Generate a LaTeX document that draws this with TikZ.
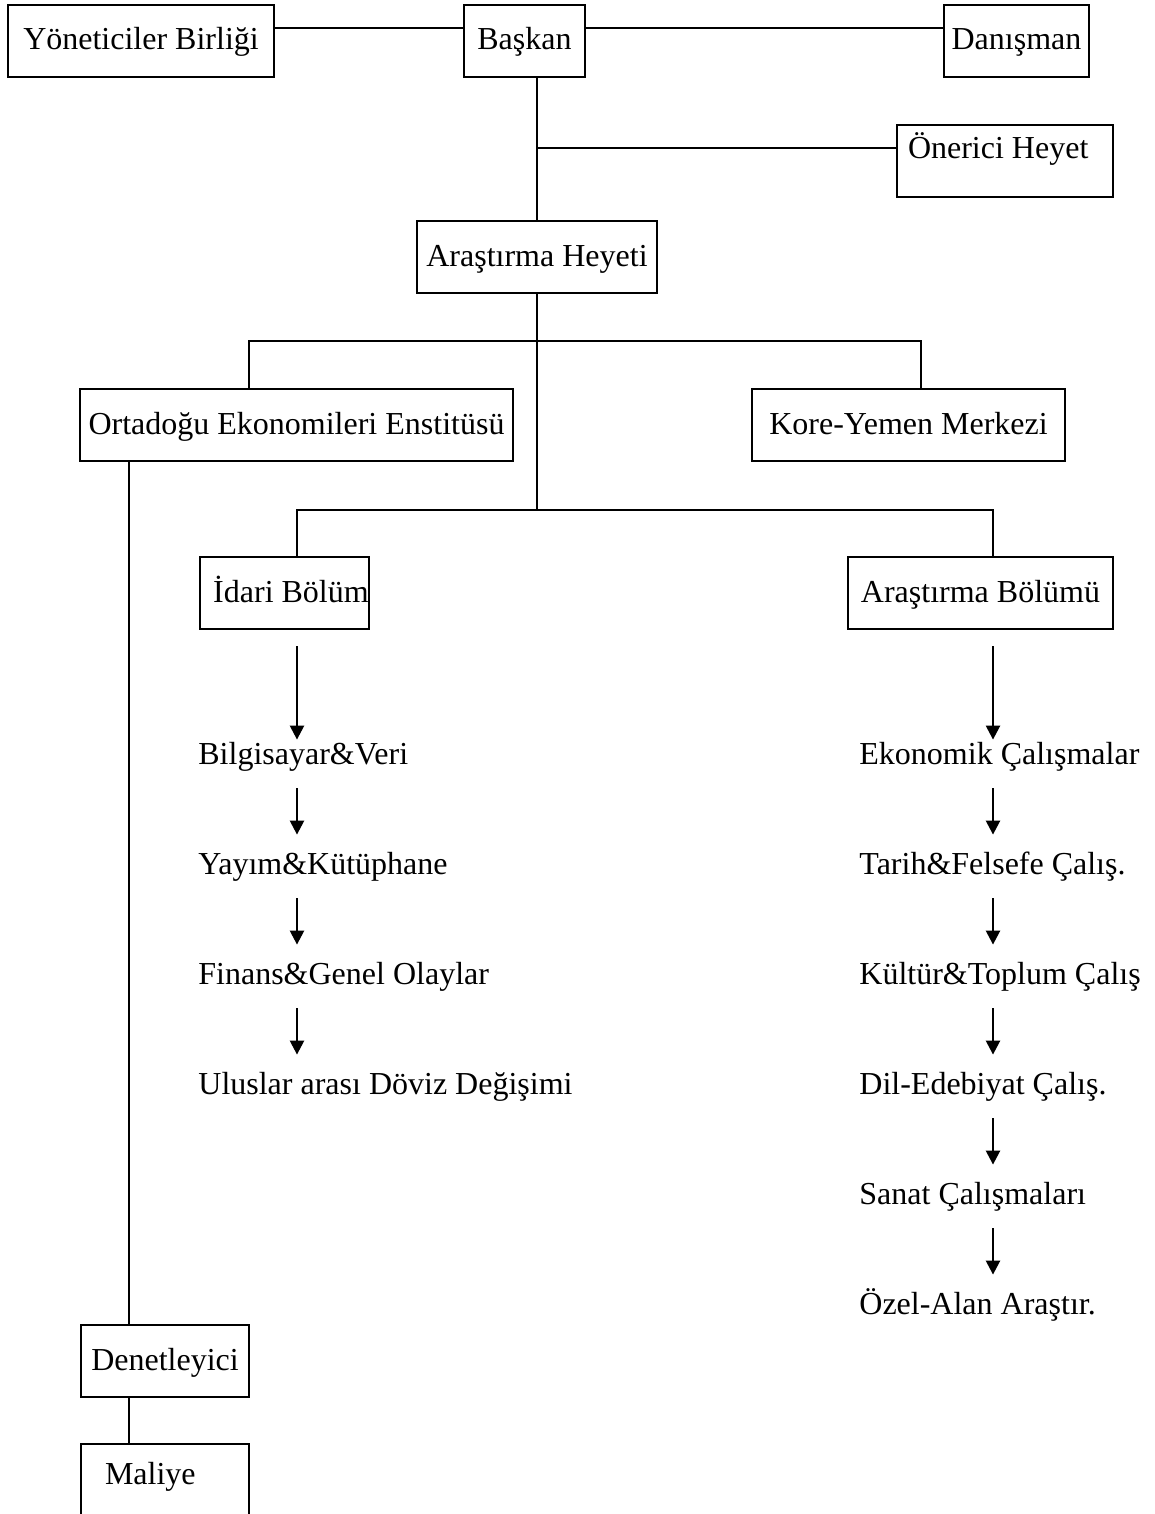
\documentclass[tikz,border=0pt]{standalone}
\usepackage{fontspec}
\setmainfont{Liberation Serif}
\usetikzlibrary{arrows.meta}
\begin{document}
\begin{tikzpicture}[x=0.5pt,y=-0.5pt,
  box/.style={draw, line width=1.2pt, inner sep=0pt, minimum height=36pt, text height=22.5pt, text depth=13.5pt, font=\fontsize{16}{19}\selectfont},
  itm/.style={inner sep=0pt, anchor=base west, text height=11pt, text depth=3pt, font=\fontsize{16}{19}\selectfont},
  ln/.style={line width=1.2pt},
  arr/.style={line width=1.2pt, -{Triangle[length=7pt,width=7pt]}, shorten <=9pt, shorten >=8.5pt},
]
\useasboundingbox (0,0) rectangle (1155,1514);
\clip (0,0) rectangle (1155,1514);
\fill[white] (0,0) rectangle (1155,1514);

% boxes
\node[box, minimum width=133pt] (yb) at (141,41) {Yöneticiler Birliği\hspace{7pt}};
\node[box, minimum width=60.5pt] (bs) at (524.5,41) {Başkan};
\node[box, minimum width=72.5pt] (dn) at (1016.5,41) {Danışman};
\node[box, minimum width=108pt, inner xsep=5.5pt, text height=17pt, text depth=19pt] (on) at (1005,161) {\makebox[97pt][l]{Önerici Heyet}};
\node[box, minimum width=120pt] (ah) at (537,257) {Araştırma Heyeti};
\node[box, minimum width=216.5pt] (oe) at (296.5,425) {Ortadoğu Ekonomileri Enstitüsü};
\node[box, minimum width=156.5pt] (ky) at (908.5,425) {Kore-Yemen Merkezi\hspace{4pt}};
\node[box, minimum width=84.5pt] (ib) at (284.5,593) {\hspace{6.5pt}İdari Bölüm};
\node[box, minimum width=132.5pt] (ab) at (980.5,593) {Araştırma Bölümü};
\node[box, minimum width=84pt] (dt) at (165,1361) {Denetleyici};
\node[box, minimum width=84pt, inner xsep=12pt, text height=20pt, text depth=30pt] (ml) at (165,1494) {\makebox[60pt][l]{Maliye}};

% list items
\node[itm] (l1) at (198,764) {Bilgisayar\&Veri};
\node[itm] (l2) at (198,874) {Yayım\&Kütüphane};
\node[itm] (l3) at (198,984) {Finans\&Genel Olaylar};
\node[itm] (l4) at (198,1094) {Uluslar arası Döviz Değişimi};
\node[itm] (r1) at (859,764) {Ekonomik Çalışmalar};
\node[itm] (r2) at (859,874) {Tarih\&Felsefe Çalış.};
\node[itm] (r3) at (859,984) {Kültür\&Toplum Çalış};
\node[itm] (r4) at (859,1094) {Dil-Edebiyat Çalış.};
\node[itm] (r5) at (859,1204) {Sanat Çalışmaları};
\node[itm] (r6) at (859,1314) {Özel-Alan Araştır.};

% helper coordinates
\coordinate (onb) at ([yshift=6.5pt]on.west);
\coordinate (b1) at (249,341);
\coordinate (b2) at (921,341);
\coordinate (j2) at (537,510);
\coordinate (c1) at (297,510);
\coordinate (c2) at (993,510);
\coordinate (d1) at (129,0);

% connectors
\draw[ln] ([yshift=6.5pt]yb.east) -- ([yshift=6.5pt]bs.west);
\draw[ln] ([yshift=6.5pt]bs.east) -- ([yshift=6.5pt]dn.west);
\draw[ln] (ah.north |- bs.south) -- (ah.north);
\draw[ln] (ah.north |- onb) -- (onb);
\draw[ln] (ah.south) -- (j2);
\draw[ln] (b1 |- oe.north) -- (b1) -- (b2) -- (b2 |- ky.north);
\draw[ln] (c1 |- ib.north) -- (c1) -- (c2) -- (c2 |- ab.north);
\draw[ln] (d1 |- oe.south) -- (d1 |- dt.north);
\draw[ln] (d1 |- dt.south) -- (d1 |- ml.north);

% arrows
\draw[arr, shorten <=8pt, shorten >=1pt] (c1 |- ib.south) -- (c1 |- l1.north);
\draw[arr] (c1 |- l1.south) -- (c1 |- l2.north);
\draw[arr] (c1 |- l2.south) -- (c1 |- l3.north);
\draw[arr] (c1 |- l3.south) -- (c1 |- l4.north);
\draw[arr, shorten <=8pt, shorten >=1pt] (c2 |- ab.south) -- (c2 |- r1.north);
\draw[arr] (c2 |- r1.south) -- (c2 |- r2.north);
\draw[arr] (c2 |- r2.south) -- (c2 |- r3.north);
\draw[arr] (c2 |- r3.south) -- (c2 |- r4.north);
\draw[arr] (c2 |- r4.south) -- (c2 |- r5.north);
\draw[arr] (c2 |- r5.south) -- (c2 |- r6.north);
\end{tikzpicture}
\end{document}
